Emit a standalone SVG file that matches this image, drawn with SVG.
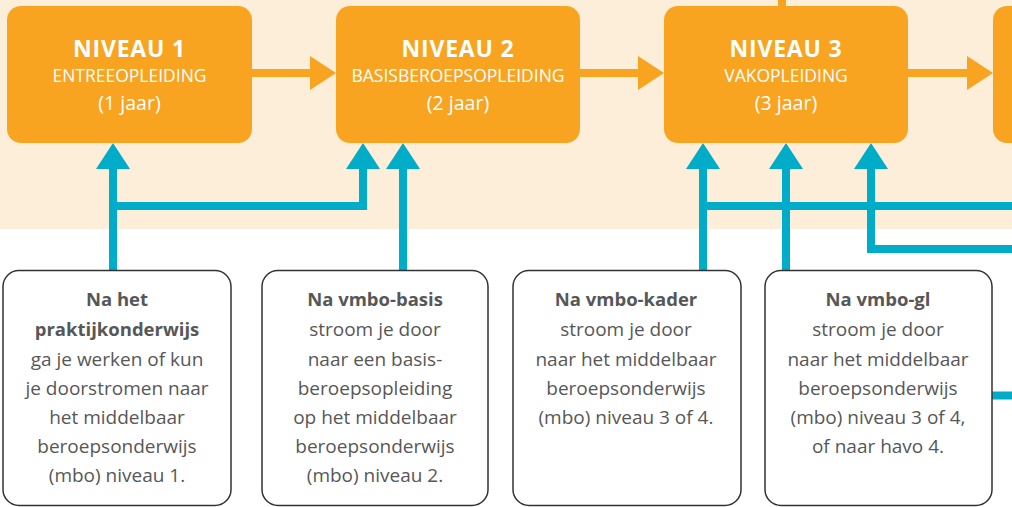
<svg xmlns="http://www.w3.org/2000/svg" width="1012" height="507" viewBox="0 0 1012 507">
<defs>
<style>
.lvl{fill:#F8A420;}
.lt{font-family:"Open Sans","Liberation Sans",sans-serif;fill:#fff;text-anchor:middle;}
.t1{font-size:23px;font-weight:700;letter-spacing:0.8px;}
.t2{font-size:17.5px;}
.t3{font-size:19.5px;}
.box{fill:#fff;stroke:#333;stroke-width:1.5;}
.bt{font-family:"Open Sans","Liberation Sans",sans-serif;font-size:19px;fill:#575757;text-anchor:middle;}
.b{font-weight:700;font-size:18.5px;}
.tl{fill:none;stroke:#00ACC7;stroke-width:8;stroke-linejoin:miter;}
.ol{fill:none;stroke:#F8A420;stroke-width:8;}
</style>
<marker id="ah-t" markerUnits="userSpaceOnUse" markerWidth="26" markerHeight="34" viewBox="0 0 26 34" refX="0" refY="17" orient="auto"><path d="M0,0 L26,17 L0,34 Z" fill="#00ACC7"/></marker>
<marker id="ah-o" markerUnits="userSpaceOnUse" markerWidth="26" markerHeight="34" viewBox="0 0 26 34" refX="0" refY="17" orient="auto"><path d="M0,0 L26,17 L0,34 Z" fill="#F8A420"/></marker>
</defs>
<rect x="0" y="0" width="1012" height="229" fill="#FDEED9"/>
<rect x="0" y="229" width="1012" height="278" fill="#fff"/>

<g id="connectors">
<path class="ol" d="M782,0 V8"/>
<path class="ol" d="M250,73 H310" marker-end="url(#ah-o)"/>
<path class="ol" d="M579,73 H638" marker-end="url(#ah-o)"/>
<path class="ol" d="M907,73 H967" marker-end="url(#ah-o)"/>
<path class="tl" d="M113,271 V169" marker-end="url(#ah-t)"/>
<path class="tl" d="M109,206 H363 V169" marker-end="url(#ah-t)"/>
<path class="tl" d="M403,271 V169" marker-end="url(#ah-t)"/>
<path class="tl" d="M703,271 V169" marker-end="url(#ah-t)"/>
<path class="tl" d="M786,271 V169" marker-end="url(#ah-t)"/>
<path class="tl" d="M699,206 H1012"/>
<path class="tl" d="M1012,249 H871 V169" marker-end="url(#ah-t)"/>
<path class="tl" d="M992,395.5 H1012"/>
</g>

<g id="niveau1">
<rect class="lvl" x="7" y="6" width="245" height="137" rx="14"/>
<text class="lt t1" x="129.5" y="57">NIVEAU 1</text>
<text class="lt t2" x="129.5" y="82">ENTREEOPLEIDING</text>
<text class="lt t3" x="129.5" y="110">(1 jaar)</text>
</g>
<g id="niveau2">
<rect class="lvl" x="336" y="6" width="244" height="137" rx="14"/>
<text class="lt t1" x="458" y="57">NIVEAU 2</text>
<text class="lt t2" x="458" y="82">BASISBEROEPSOPLEIDING</text>
<text class="lt t3" x="458" y="110">(2 jaar)</text>
</g>
<g id="niveau3">
<rect class="lvl" x="664" y="6" width="244" height="137" rx="14"/>
<text class="lt t1" x="786" y="57">NIVEAU 3</text>
<text class="lt t2" x="786" y="82">VAKOPLEIDING</text>
<text class="lt t3" x="786" y="110">(3 jaar)</text>
</g>
<g id="niveau4">
<rect class="lvl" x="993" y="6" width="60" height="137" rx="14"/>
</g>

<g id="box1">
<rect class="box" x="3" y="270.5" width="228" height="235" rx="16"/>
<text class="bt b" x="117" y="306">Na het</text>
<text class="bt b" x="117" y="336">praktijkonderwijs</text>
<text class="bt" x="117" y="366">ga je werken of kun</text>
<text class="bt" x="117" y="395">je doorstromen naar</text>
<text class="bt" x="117" y="424">het middelbaar</text>
<text class="bt" x="117" y="453">beroepsonderwijs</text>
<text class="bt" x="117" y="482">(mbo) niveau 1.</text>
</g>
<g id="box2">
<rect class="box" x="262" y="270.5" width="226" height="235" rx="16"/>
<text class="bt b" x="375" y="306">Na vmbo-basis</text>
<text class="bt" x="375" y="336">stroom je door</text>
<text class="bt" x="375" y="366">naar een basis-</text>
<text class="bt" x="375" y="395">beroepsopleiding</text>
<text class="bt" x="375" y="424">op het middelbaar</text>
<text class="bt" x="375" y="453">beroepsonderwijs</text>
<text class="bt" x="375" y="482">(mbo) niveau 2.</text>
</g>
<g id="box3">
<rect class="box" x="513" y="270.5" width="228" height="235" rx="16"/>
<text class="bt b" x="626" y="306">Na vmbo-kader</text>
<text class="bt" x="626" y="336">stroom je door</text>
<text class="bt" x="626" y="366">naar het middelbaar</text>
<text class="bt" x="626" y="395">beroepsonderwijs</text>
<text class="bt" x="626" y="424">(mbo) niveau 3 of 4.</text>
</g>
<g id="box4">
<rect class="box" x="765" y="270.5" width="227" height="235" rx="16"/>
<text class="bt b" x="878" y="306">Na vmbo-gl</text>
<text class="bt" x="878" y="336">stroom je door</text>
<text class="bt" x="878" y="366">naar het middelbaar</text>
<text class="bt" x="878" y="395">beroepsonderwijs</text>
<text class="bt" x="878" y="424">(mbo) niveau 3 of 4,</text>
<text class="bt" x="878" y="453">of naar havo 4.</text>
</g>
</svg>
